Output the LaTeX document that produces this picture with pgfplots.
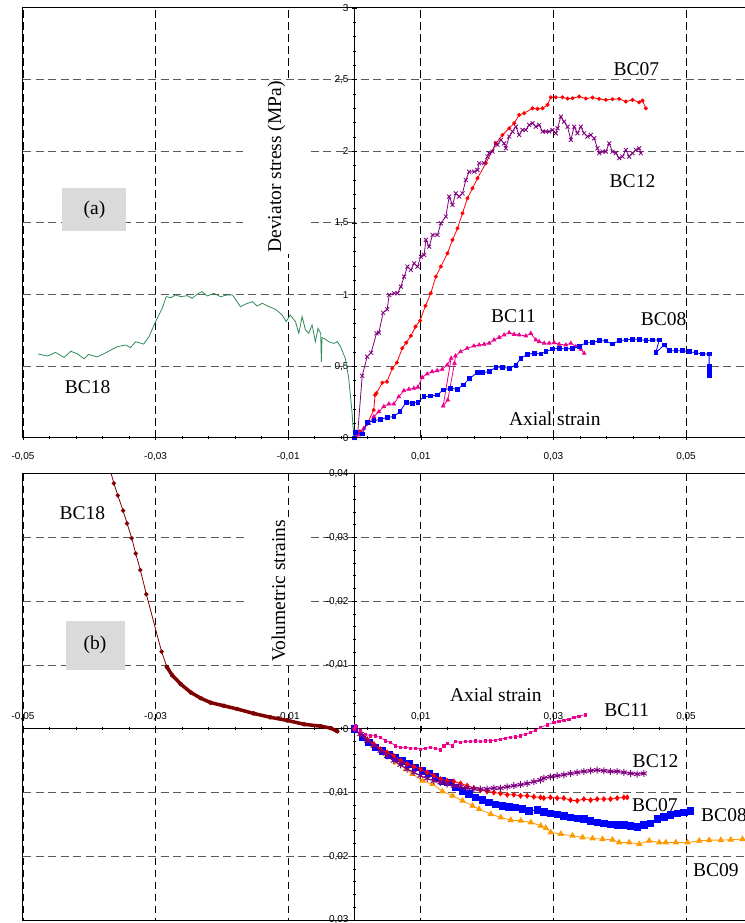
\documentclass[border=0pt]{standalone}
\usepackage{pgfplots}
\pgfplotsset{compat=1.18}
\usepackage{fontspec}
\setmainfont{Liberation Serif}
\newfontfamily\ticksans{Liberation Sans}

\definecolor{bcgreen}{RGB}{46,139,87}
\definecolor{bcpurple}{RGB}{128,0,128}
\definecolor{bcorange}{RGB}{255,153,0}
\definecolor{bcdarkred}{RGB}{128,0,0}
\definecolor{boxgray}{RGB}{218,218,218}

\tikzset{lab/.style={font=\fontsize{19.5}{20}\selectfont}}

\pgfplotsset{
  panel/.style={
    scale only axis,
    width=729.3pt,
    xmin=-0.05, xmax=0.06,
    axis lines=middle,
    axis line style={-, line width=1pt, black},
    every inner x axis line/.append style={-},
    every inner y axis line/.append style={-},
    scaled x ticks=false, scaled y ticks=false,
    xtick={-0.05,-0.03,-0.01,0.01,0.03,0.05},
    xticklabels={{-0,05},{-0,03},{-0,01},{0,01},{0,03},{0,05}},
    minor x tick num=4,
    minor y tick num=4,
    tick style={black, line width=0.6pt},
    major tick length=5pt, minor tick length=3pt,
    ticklabel style={font=\ticksans\fontsize{10}{10}\selectfont},
    grid=major,
    x grid style={black, line width=0.7pt, dash pattern=on 7.5pt off 4.5pt},
    y grid style={black!65, line width=1pt, dash pattern=on 8pt off 4.5pt},
    hide obscured y ticks=false,
    clip mode=individual,
  },
}

\begin{document}
\begin{tikzpicture}

% (a) deviator stress against axial strain
\begin{axis}[panel, at={(23pt,485pt)}, anchor=south west, height=430pt,
  ymin=0, ymax=3,
  ytick={0,0.5,1,1.5,2,2.5,3},
  yticklabels={0,{0,5},1,{1,5},2,{2,5},3},
  xticklabel style={anchor=north, yshift=-8pt}]

\addplot[bcgreen, line width=0.8pt] coordinates {
(-0.0477,0.586) (-0.0463,0.572) (-0.0451,0.597) (-0.0438,0.562) (-0.0428,0.605)
(-0.0418,0.588) (-0.0408,0.553) (-0.0401,0.583) (-0.0388,0.565) (-0.0373,0.600)
(-0.0358,0.637) (-0.0345,0.649) (-0.0338,0.630) (-0.0330,0.672) (-0.0318,0.655)
(-0.0310,0.707) (-0.0300,0.812) (-0.0290,0.905) (-0.0284,0.986) (-0.0277,0.979)
(-0.0270,0.998) (-0.0262,0.986) (-0.0252,0.993) (-0.0245,0.974) (-0.0237,1.005)
(-0.0230,1.021) (-0.0222,0.991) (-0.0212,1.009) (-0.0202,0.986) (-0.0192,0.998)
(-0.0184,0.998) (-0.0179,0.963) (-0.0172,0.916) (-0.0164,0.935) (-0.0154,0.951)
(-0.0147,0.921) (-0.0139,0.940) (-0.0129,0.916) (-0.0119,0.898) (-0.0109,0.858)
(-0.0103,0.812) (-0.0097,0.858) (-0.0089,0.812) (-0.0084,0.730) (-0.0079,0.847)
(-0.0074,0.754) (-0.0069,0.730) (-0.0064,0.789) (-0.0059,0.672) (-0.0055,0.765)
(-0.0051,0.730) (-0.0050,0.532) (-0.0049,0.700) (-0.0044,0.690) (-0.0039,0.672)
(-0.0031,0.660) (-0.0026,0.672) (-0.0021,0.637) (-0.0014,0.556) (-0.0009,0.428)
(-0.0004,0.195) (-0.0001,0.0)
};

\addplot[red, line width=0.8pt, mark=*, mark size=1.6pt] coordinates {
(0,0) (0.0009,0.044) (0.0019,0.098) (0.0029,0.195) (0.0031,0.300) (0.0033,0.312)
(0.0042,0.386) (0.0049,0.393) (0.0057,0.486) (0.0064,0.526) (0.0072,0.626)
(0.0078,0.665) (0.0085,0.712) (0.0092,0.777) (0.0099,0.819) (0.0107,0.922)
(0.01151,1.010) (0.01227,1.126) (0.01302,1.196) (0.01403,1.289) (0.01478,1.382)
(0.01554,1.463) (0.01629,1.568) (0.01704,1.673) (0.01780,1.742) (0.01855,1.812)
(0.01981,1.917) (0.02132,2.056) (0.02232,2.114) (0.02333,2.161) (0.02408,2.196)
(0.02484,2.254) (0.02559,2.266) (0.02685,2.300) (0.02760,2.296) (0.02836,2.300)
(0.02911,2.324) (0.02961,2.377) (0.03036,2.377) (0.03137,2.377) (0.03213,2.368)
(0.03288,2.370) (0.03389,2.382) (0.03489,2.368) (0.03590,2.375) (0.03690,2.366)
(0.03791,2.359) (0.03891,2.363) (0.03992,2.366) (0.04092,2.347) (0.04193,2.359)
(0.04294,2.342) (0.04344,2.354) (0.04394,2.300)
};

\addplot[bcpurple, line width=0.8pt, mark=x, mark size=2.8pt] coordinates {
(0,0) (0.0005,0.044) (0.00116,0.433) (0.00191,0.567) (0.00251,0.595) (0.00332,0.730)
(0.00367,0.735) (0.00432,0.874) (0.00493,0.898) (0.00523,0.998) (0.00598,1.010)
(0.00649,1.010) (0.00699,1.056) (0.00749,1.126) (0.00799,1.196) (0.00850,1.172)
(0.00900,1.219) (0.00950,1.196) (0.01000,1.265) (0.01051,1.277) (0.01076,1.382)
(0.01126,1.335) (0.01177,1.417) (0.01252,1.417) (0.01302,1.498) (0.01378,1.545)
(0.01428,1.684) (0.01478,1.626) (0.01528,1.707) (0.01579,1.684) (0.01629,1.707)
(0.01679,1.800) (0.01730,1.858) (0.01805,1.858) (0.01855,1.870) (0.01880,1.917)
(0.01956,1.917) (0.02006,1.963) (0.02031,1.987) (0.02081,1.998) (0.02132,2.056)
(0.02157,2.045) (0.02207,2.080) (0.02257,2.056) (0.02282,2.021) (0.02333,2.103)
(0.02383,2.138) (0.02433,2.172) (0.02484,2.114) (0.02534,2.149) (0.02584,2.149)
(0.02635,2.184) (0.02685,2.196) (0.02735,2.172) (0.02785,2.184) (0.02836,2.138)
(0.02886,2.138) (0.02936,2.138) (0.02986,2.149) (0.03036,2.126) (0.03062,2.161)
(0.03112,2.242) (0.03162,2.207) (0.03213,2.172) (0.03263,2.080) (0.03313,2.172)
(0.03363,2.126) (0.03414,2.172) (0.03464,2.126) (0.03514,2.103) (0.03564,2.114)
(0.03615,2.091) (0.03665,2.021) (0.03690,1.987) (0.03740,1.998) (0.03791,1.998)
(0.03841,2.056) (0.03891,1.998) (0.03942,1.987) (0.03992,1.952) (0.04042,1.963)
(0.04092,2.010) (0.04143,1.963) (0.04193,1.987) (0.04243,2.010) (0.04294,2.021)
(0.04319,1.987)
};

\addplot[magenta, line width=0.8pt, mark=triangle*, mark size=2pt] coordinates {
(0,0) (0.00065,0.021) (0.00141,0.068) (0.00216,0.102) (0.00292,0.149) (0.00367,0.184)
(0.00442,0.219) (0.00518,0.237) (0.00593,0.237) (0.00669,0.288) (0.00744,0.330)
(0.00820,0.340) (0.00895,0.347) (0.00955,0.354) (0.01021,0.423) (0.01096,0.447)
(0.01171,0.463) (0.01247,0.470) (0.01322,0.479) (0.01398,0.509) (0.01458,0.556)
(0.01337,0.223) (0.01407,0.265) (0.01508,0.521) (0.01523,0.572) (0.01599,0.602)
(0.01699,0.626) (0.01800,0.642) (0.01880,0.649) (0.01956,0.654) (0.02031,0.661)
(0.02106,0.684) (0.02182,0.702) (0.02257,0.719) (0.02333,0.735) (0.02408,0.723)
(0.02484,0.719) (0.02584,0.712) (0.02660,0.730) (0.02735,0.684) (0.02785,0.672)
(0.02861,0.661) (0.02936,0.661) (0.03011,0.665) (0.03087,0.654) (0.03187,0.649)
(0.03263,0.661) (0.03338,0.637) (0.03414,0.619) (0.03464,0.591)
};

\addplot[blue, line width=0.8pt, mark=square*, mark size=1.9pt] coordinates {
(0,0) (0.00015,0.037) (0.00116,0.028) (0.00191,0.107) (0.00292,0.121) (0.00392,0.130)
(0.00493,0.144) (0.00593,0.149) (0.00684,0.184) (0.00779,0.249) (0.00870,0.242)
(0.00955,0.249) (0.01046,0.288) (0.01146,0.293) (0.01247,0.300) (0.01337,0.335)
(0.01448,0.347) (0.01549,0.340) (0.01639,0.370) (0.01739,0.416) (0.01850,0.456)
(0.01931,0.456) (0.02031,0.463) (0.02132,0.493) (0.02232,0.493) (0.02333,0.486)
(0.02433,0.509) (0.02509,0.556) (0.02609,0.584) (0.02710,0.591) (0.02810,0.586)
(0.02886,0.602) (0.02986,0.621) (0.03087,0.626) (0.03187,0.621) (0.03288,0.626)
(0.03389,0.637) (0.03489,0.665) (0.03590,0.665) (0.03690,0.679) (0.03791,0.677)
(0.03891,0.656) (0.03992,0.679) (0.04092,0.684) (0.04193,0.689) (0.04294,0.689)
(0.04394,0.679) (0.04495,0.684) (0.04595,0.684) (0.04545,0.595) (0.04671,0.649)
(0.04746,0.609) (0.04847,0.609) (0.04947,0.609) (0.05048,0.602) (0.05148,0.595)
(0.05249,0.586) (0.05349,0.586) (0.05349,0.498) (0.05349,0.463) (0.05349,0.433)
};

\node[fill=boxgray, minimum width=64pt, minimum height=43pt, lab] at (axis cs:-0.03922,1.595) {(a)};
\node[lab, rotate=90, fill=white, inner xsep=1pt, inner ysep=25pt] at (axis cs:-0.01176,1.891) {Deviator stress (MPa)};
\node[lab] at (axis cs:0.04253,2.575) {BC07};
\node[lab] at (axis cs:0.04193,1.793) {BC12};
\node[lab] at (axis cs:0.02398,0.851) {BC11};
\node[lab] at (axis cs:0.04661,0.830) {BC08};
\node[lab] at (axis cs:-0.04027,0.356) {BC18};
\node[lab] at (axis cs:0.03021,0.136) {Axial strain};
\draw[line width=1pt] (rel axis cs:0,0) rectangle (rel axis cs:1,1);
\end{axis}

% (b) volumetric strain against axial strain
\begin{axis}[panel, at={(23pt,3pt)}, anchor=south west, height=446.25pt,
  ymin=-0.04, ymax=0.03, y dir=reverse,
  ytick={-0.04,-0.03,-0.02,-0.01,0,0.01,0.02,0.03},
  yticklabels={{-0,04},{-0,03},{-0,02},{-0,01},0,{0,01},{0,02},{0,03}},
  xticklabel style={anchor=south, yshift=7pt}]

\addplot[bcorange, line width=0.8pt, mark=triangle*, mark size=3pt] coordinates {
(0,0) (0.0012,0.0012) (0.0028,0.0026) (0.00473,0.00397) (0.00623,0.00528)
(0.00774,0.00633) (0.00875,0.00711) (0.01026,0.00816) (0.01176,0.00868)
(0.01327,0.00983) (0.01478,0.01051) (0.01629,0.01129) (0.01780,0.01208)
(0.01880,0.01260) (0.02056,0.01339) (0.02207,0.01391) (0.02358,0.01433)
(0.02509,0.01443) (0.02660,0.01469) (0.02810,0.01522) (0.02886,0.01558)
(0.02961,0.01626) (0.03112,0.01652) (0.03288,0.01678) (0.03439,0.01705)
(0.03590,0.01720) (0.03741,0.01731) (0.03891,0.01741) (0.03992,0.01784)
(0.04143,0.01784) (0.04294,0.01809) (0.04445,0.01757) (0.04596,0.01784)
(0.04696,0.01784) (0.04846,0.01784) (0.05023,0.01784) (0.05199,0.01757)
(0.05349,0.01747) (0.05525,0.01747) (0.05676,0.01741) (0.05852,0.01731)
};

\addplot[blue, line width=0.8pt, mark=square*, mark size=3.2pt] coordinates {
(0,0) (0.00116,0.00136) (0.00216,0.00214) (0.00317,0.00293) (0.00417,0.00345)
(0.00518,0.00408) (0.00618,0.00460) (0.00719,0.00502) (0.00820,0.00554)
(0.00920,0.00607) (0.01021,0.00659) (0.01121,0.00701) (0.01222,0.00753)
(0.01322,0.00816) (0.01423,0.00842) (0.01523,0.00920) (0.01624,0.00973)
(0.01724,0.01025) (0.01825,0.01077) (0.01926,0.01114) (0.02026,0.01155)
(0.02127,0.01182) (0.02227,0.01208) (0.02328,0.01224) (0.02428,0.01234)
(0.02529,0.01260) (0.02629,0.01286) (0.02755,0.01276) (0.02855,0.01302)
(0.02956,0.01328) (0.03057,0.01339) (0.03157,0.01365) (0.03258,0.01391)
(0.03359,0.01402) (0.03459,0.01417) (0.03560,0.01443) (0.03660,0.01469)
(0.03761,0.01480) (0.03861,0.01496) (0.03962,0.01506) (0.04062,0.01506)
(0.04163,0.01522) (0.04264,0.01537) (0.04364,0.01506) (0.04465,0.01485)
(0.04565,0.01417) (0.04666,0.01380) (0.04766,0.01349) (0.04867,0.01328)
(0.04967,0.01313) (0.05068,0.01286)
};

\addplot[red, line width=0.8pt, mark=diamond*, mark size=2.4pt] coordinates {
(0,0) (0.00090,0.00084) (0.00191,0.00162) (0.00292,0.00241) (0.00392,0.00319)
(0.00493,0.00371) (0.00593,0.00424) (0.00694,0.00502) (0.00794,0.00554)
(0.00895,0.00596) (0.00995,0.00633) (0.01096,0.00685) (0.01197,0.00737)
(0.01297,0.00789) (0.01398,0.00816) (0.01498,0.00826) (0.01599,0.00858)
(0.01699,0.00894) (0.01800,0.00931) (0.01900,0.00962) (0.02001,0.00983)
(0.02102,0.00999) (0.02202,0.01015) (0.02303,0.01035) (0.02403,0.01035)
(0.02504,0.01051) (0.02604,0.01051) (0.02705,0.01067) (0.02805,0.01077)
(0.02855,0.01088) (0.02956,0.01077) (0.03057,0.01088) (0.03157,0.01088)
(0.03258,0.01119) (0.03359,0.01129) (0.03459,0.01103) (0.03560,0.01119)
(0.03660,0.01103) (0.03761,0.01103) (0.03861,0.01103) (0.03962,0.01088)
(0.04062,0.01077) (0.04113,0.01077)
};

\addplot[bcpurple, line width=1pt, mark=asterisk, mark size=3.5pt] coordinates {
(0,0) (0.00090,0.00084) (0.00191,0.00188) (0.00292,0.00267) (0.00392,0.00345)
(0.00493,0.00424) (0.00593,0.00502) (0.00694,0.00565) (0.00794,0.00633)
(0.00895,0.00685) (0.00995,0.00737) (0.01096,0.00779) (0.01197,0.00816)
(0.01297,0.00842) (0.01398,0.00868) (0.01498,0.00894) (0.01599,0.00910)
(0.01699,0.00931) (0.01800,0.00941) (0.01900,0.00946) (0.02001,0.00946)
(0.02102,0.00931) (0.02202,0.00931) (0.02303,0.00910) (0.02403,0.00894)
(0.02504,0.00878) (0.02604,0.00858) (0.02705,0.00831) (0.02805,0.00805)
(0.02855,0.00774) (0.02956,0.00753) (0.03057,0.00737) (0.03157,0.00722)
(0.03258,0.00701) (0.03359,0.00685) (0.03459,0.00669) (0.03560,0.00659)
(0.03660,0.00648) (0.03761,0.00659) (0.03861,0.00669) (0.03962,0.00669)
(0.04062,0.00685) (0.04163,0.00701) (0.04264,0.00711) (0.04364,0.00701)
};

\addplot[magenta, line width=0.6pt, mark=square*, mark size=1.2pt] coordinates {
(0,0) (0.00015,-0.00047) (0.00090,0.00031) (0.00166,0.00084) (0.00241,0.00110)
(0.00317,0.00110) (0.00392,0.00136) (0.00468,0.00188) (0.00543,0.00214)
(0.00618,0.00267) (0.00694,0.00293) (0.00769,0.00293) (0.00845,0.00303)
(0.00920,0.00303) (0.00995,0.00319) (0.01071,0.00303) (0.01146,0.00293)
(0.01222,0.00309) (0.01297,0.00329) (0.01347,0.00267) (0.01397,0.00230)
(0.01473,0.00267) (0.01523,0.00199) (0.01599,0.00214) (0.01674,0.00199)
(0.01750,0.00199) (0.01825,0.00188) (0.01900,0.00199) (0.01976,0.00188)
(0.02051,0.00188) (0.02127,0.00178) (0.02202,0.00162) (0.02278,0.00146)
(0.02353,0.00136) (0.02428,0.00126) (0.02504,0.00110) (0.02579,0.00084)
(0.02655,0.00058) (0.02730,0.00021) (0.02805,-0.00021) (0.02906,-0.00063)
(0.03006,-0.00099) (0.03082,-0.00115) (0.03157,-0.00136) (0.03233,-0.00152)
(0.03308,-0.00178) (0.03384,-0.00199) (0.03484,-0.00220)
};

\addplot[bcdarkred, line width=0.8pt, mark=*, mark size=1.8pt] coordinates {
(-0.0370,-0.0412) (-0.0363,-0.0385) (-0.0357,-0.0366) (-0.0349,-0.0342)
(-0.0343,-0.0322) (-0.0336,-0.0299) (-0.0330,-0.0275) (-0.0323,-0.0249)
(-0.0314,-0.0211) (-0.0291,-0.0121) (-0.0283,-0.0097)
};
\addplot[bcdarkred, line width=3.5pt, mark=*, mark size=2pt, mark options={line width=0.4pt}] coordinates {
(-0.0283,-0.0097) (-0.0275,-0.0084) (-0.0262,-0.0070) (-0.0247,-0.0057)
(-0.0232,-0.0048) (-0.0217,-0.0041) (-0.0197,-0.0036) (-0.0177,-0.0031)
(-0.0152,-0.0024) (-0.0127,-0.0018) (-0.0101,-0.0013) (-0.0076,-0.0007)
(-0.0051,-0.0004) (-0.0036,-0.0001) (-0.0026,0.0004)
};

\node[fill=boxgray, minimum width=59pt, minimum height=49pt, lab] at (axis cs:-0.03914,-0.0131) {(b)};
\node[lab, rotate=90, fill=white, inner xsep=1pt, inner ysep=25pt] at (axis cs:-0.01146,-0.02165) {Volumetric strains};
\node[lab] at (axis cs:-0.04103,-0.03388) {BC18};
\node[lab] at (axis cs:0.02131,-0.00533) {Axial strain};
\node[lab] at (axis cs:0.04106,-0.00298) {BC11};
\node[lab] at (axis cs:0.0454,0.00502) {BC12};
\node[lab] at (axis cs:0.04532,0.0120) {BC07};
\node[lab] at (axis cs:0.05573,0.01357) {BC08};
\node[lab] at (axis cs:0.05452,0.02212) {BC09};
\draw[line width=1pt] (rel axis cs:0,0) rectangle (rel axis cs:1,1);
\end{axis}

\pgfresetboundingbox
\path[use as bounding box] (0pt,0pt) rectangle (744pt,923pt);
\end{tikzpicture}
\end{document}
